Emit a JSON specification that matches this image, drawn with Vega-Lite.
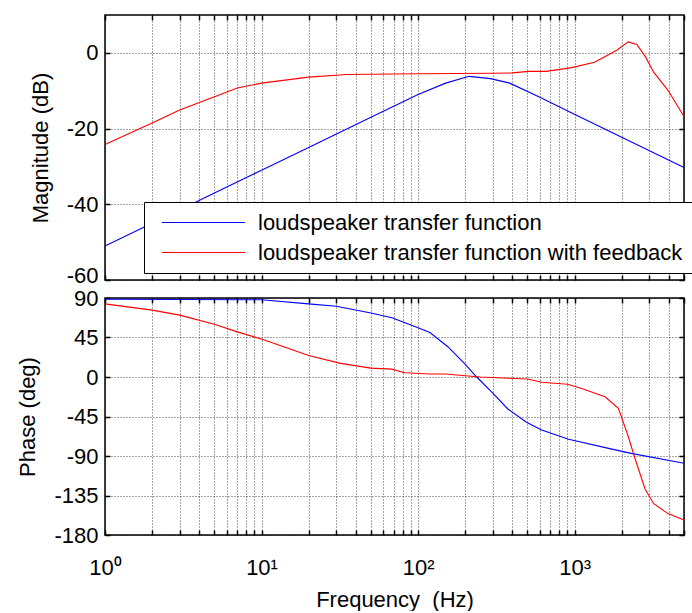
{
  "$schema": "https://vega.github.io/schema/vega-lite/v6.json",
  "padding": {"left": 16, "top": 13, "right": 0, "bottom": 0},
  "spacing": 18,
  "bounds": "flush",
  "config": {
    "font": "Liberation Sans",
    "view": {"stroke": "#000", "strokeWidth": 1.5},
    "axis": {
      "labelFont": "Liberation Sans",
      "titleFont": "Liberation Sans",
      "labelFontSize": 22,
      "titleFontSize": 22,
      "titleFontWeight": "normal",
      "labelColor": "#000",
      "titleColor": "#000",
      "domain": false,
      "tickColor": "#000",
      "tickSize": -5,
      "tickWidth": 1.5,
      "gridColor": "#000",
      "gridOpacity": 0.7,
      "gridDash": [1, 2],
      "gridWidth": 1
    }
  },
  "datasets": {
    "mag": [
      {"f": 1, "dB": -51, "series": "loudspeaker transfer function"},
      {"f": 2, "dB": -45, "series": "loudspeaker transfer function"},
      {"f": 3, "dB": -41.5, "series": "loudspeaker transfer function"},
      {"f": 5, "dB": -37, "series": "loudspeaker transfer function"},
      {"f": 10, "dB": -31, "series": "loudspeaker transfer function"},
      {"f": 20, "dB": -25, "series": "loudspeaker transfer function"},
      {"f": 50, "dB": -17, "series": "loudspeaker transfer function"},
      {"f": 100, "dB": -11, "series": "loudspeaker transfer function"},
      {"f": 150, "dB": -8, "series": "loudspeaker transfer function"},
      {"f": 212, "dB": -6.2, "series": "loudspeaker transfer function"},
      {"f": 290, "dB": -6.8, "series": "loudspeaker transfer function"},
      {"f": 385, "dB": -8, "series": "loudspeaker transfer function"},
      {"f": 600, "dB": -11.7, "series": "loudspeaker transfer function"},
      {"f": 960, "dB": -15.9, "series": "loudspeaker transfer function"},
      {"f": 2000, "dB": -22.3, "series": "loudspeaker transfer function"},
      {"f": 5000, "dB": -30.3, "series": "loudspeaker transfer function"},
      {"f": 1, "dB": -24.2, "series": "loudspeaker transfer function with feedback"},
      {"f": 2, "dB": -18.5, "series": "loudspeaker transfer function with feedback"},
      {"f": 3, "dB": -15.1, "series": "loudspeaker transfer function with feedback"},
      {"f": 5, "dB": -11.6, "series": "loudspeaker transfer function with feedback"},
      {"f": 7, "dB": -9.3, "series": "loudspeaker transfer function with feedback"},
      {"f": 10, "dB": -8, "series": "loudspeaker transfer function with feedback"},
      {"f": 20, "dB": -6.4, "series": "loudspeaker transfer function with feedback"},
      {"f": 35, "dB": -5.7, "series": "loudspeaker transfer function with feedback"},
      {"f": 100, "dB": -5.5, "series": "loudspeaker transfer function with feedback"},
      {"f": 300, "dB": -5.4, "series": "loudspeaker transfer function with feedback"},
      {"f": 400, "dB": -5.3, "series": "loudspeaker transfer function with feedback"},
      {"f": 510, "dB": -4.9, "series": "loudspeaker transfer function with feedback"},
      {"f": 660, "dB": -4.9, "series": "loudspeaker transfer function with feedback"},
      {"f": 960, "dB": -3.9, "series": "loudspeaker transfer function with feedback"},
      {"f": 1340, "dB": -2.5, "series": "loudspeaker transfer function with feedback"},
      {"f": 1860, "dB": 0.7, "series": "loudspeaker transfer function with feedback"},
      {"f": 2200, "dB": 2.9, "series": "loudspeaker transfer function with feedback"},
      {"f": 2500, "dB": 2.2, "series": "loudspeaker transfer function with feedback"},
      {"f": 2850, "dB": -1.2, "series": "loudspeaker transfer function with feedback"},
      {"f": 3200, "dB": -5.1, "series": "loudspeaker transfer function with feedback"},
      {"f": 3950, "dB": -9.9, "series": "loudspeaker transfer function with feedback"},
      {"f": 5000, "dB": -16.8, "series": "loudspeaker transfer function with feedback"}
    ],
    "phase": [
      {"f": 1, "deg": 88.5, "series": "loudspeaker transfer function"},
      {"f": 10, "deg": 88, "series": "loudspeaker transfer function"},
      {"f": 20, "deg": 83.3, "series": "loudspeaker transfer function"},
      {"f": 30, "deg": 80.6, "series": "loudspeaker transfer function"},
      {"f": 50, "deg": 73, "series": "loudspeaker transfer function"},
      {"f": 68, "deg": 67.5, "series": "loudspeaker transfer function"},
      {"f": 100, "deg": 56, "series": "loudspeaker transfer function"},
      {"f": 119, "deg": 50.6, "series": "loudspeaker transfer function"},
      {"f": 155, "deg": 34.5, "series": "loudspeaker transfer function"},
      {"f": 199, "deg": 15, "series": "loudspeaker transfer function"},
      {"f": 237, "deg": 0, "series": "loudspeaker transfer function"},
      {"f": 295, "deg": -16.9, "series": "loudspeaker transfer function"},
      {"f": 376, "deg": -36.7, "series": "loudspeaker transfer function"},
      {"f": 490, "deg": -51.3, "series": "loudspeaker transfer function"},
      {"f": 610, "deg": -60, "series": "loudspeaker transfer function"},
      {"f": 915, "deg": -71, "series": "loudspeaker transfer function"},
      {"f": 1650, "deg": -81.3, "series": "loudspeaker transfer function"},
      {"f": 2300, "deg": -87, "series": "loudspeaker transfer function"},
      {"f": 5000, "deg": -98.2, "series": "loudspeaker transfer function"},
      {"f": 1, "deg": 83.3, "series": "loudspeaker transfer function with feedback"},
      {"f": 2, "deg": 76.2, "series": "loudspeaker transfer function with feedback"},
      {"f": 3, "deg": 70.5, "series": "loudspeaker transfer function with feedback"},
      {"f": 5, "deg": 60, "series": "loudspeaker transfer function with feedback"},
      {"f": 7, "deg": 51.4, "series": "loudspeaker transfer function with feedback"},
      {"f": 10, "deg": 43.2, "series": "loudspeaker transfer function with feedback"},
      {"f": 20, "deg": 24.4, "series": "loudspeaker transfer function with feedback"},
      {"f": 32, "deg": 15.5, "series": "loudspeaker transfer function with feedback"},
      {"f": 50, "deg": 10.1, "series": "loudspeaker transfer function with feedback"},
      {"f": 68, "deg": 9, "series": "loudspeaker transfer function with feedback"},
      {"f": 82, "deg": 4.9, "series": "loudspeaker transfer function with feedback"},
      {"f": 120, "deg": 3.4, "series": "loudspeaker transfer function with feedback"},
      {"f": 150, "deg": 3.4, "series": "loudspeaker transfer function with feedback"},
      {"f": 200, "deg": 1.5, "series": "loudspeaker transfer function with feedback"},
      {"f": 250, "deg": 0, "series": "loudspeaker transfer function with feedback"},
      {"f": 380, "deg": -1.5, "series": "loudspeaker transfer function with feedback"},
      {"f": 500, "deg": -2.2, "series": "loudspeaker transfer function with feedback"},
      {"f": 617, "deg": -6, "series": "loudspeaker transfer function with feedback"},
      {"f": 900, "deg": -8.2, "series": "loudspeaker transfer function with feedback"},
      {"f": 1110, "deg": -13, "series": "loudspeaker transfer function with feedback"},
      {"f": 1565, "deg": -22.5, "series": "loudspeaker transfer function with feedback"},
      {"f": 1905, "deg": -35.6, "series": "loudspeaker transfer function with feedback"},
      {"f": 2200, "deg": -67.5, "series": "loudspeaker transfer function with feedback"},
      {"f": 2440, "deg": -93.7, "series": "loudspeaker transfer function with feedback"},
      {"f": 2820, "deg": -127.5, "series": "loudspeaker transfer function with feedback"},
      {"f": 3200, "deg": -144.3, "series": "loudspeaker transfer function with feedback"},
      {"f": 3950, "deg": -155.6, "series": "loudspeaker transfer function with feedback"},
      {"f": 5000, "deg": -163, "series": "loudspeaker transfer function with feedback"}
    ]
  },
  "resolve": {"scale": {"color": "independent"}, "legend": {"color": "independent"}},
  "vconcat": [
    {
      "width": 579,
      "height": 265,
      "data": {"name": "mag"},
      "resolve": {"axis": {"x": "independent", "y": "independent"}},
      "layer": [
        {
          "mark": {"type": "line", "strokeWidth": 1.1},
          "encoding": {
            "x": {"field": "f", "type": "quantitative", "scale": {"type": "log", "domain": [1, 5000], "nice": false},
              "axis": {"values": [1,2,3,4,5,6,7,8,9,10,20,30,40,50,60,70,80,90,100,200,300,400,500,600,700,800,900,1000,2000,3000,4000,5000], "labels": false, "title": null, "grid": true}},
            "y": {"field": "dB", "type": "quantitative", "scale": {"domain": [-60, 10], "nice": false},
              "axis": {"values": [-60, -40, -20, 0], "labelExpr": "'' + datum.value", "title": "Magnitude (dB)", "labelPadding": 12, "titlePadding": 14, "labelFlush": true, "labelFlushOffset": 7}},
            "color": {"field": "series", "type": "nominal",
              "scale": {"domain": ["loudspeaker transfer function", "loudspeaker transfer function with feedback"], "range": ["#0000ff", "#ff0000"]},
              "legend": {"orient": "none", "legendX": 39, "legendY": 187, "title": null, "fillColor": "#fff", "strokeColor": "#000", "padding": 9.5, "symbolType": "stroke", "symbolSize": 6889, "symbolStrokeWidth": 1.1, "symbolOffset": 7.5, "labelOffset": 12, "labelFontSize": 22, "labelFont": "Liberation Sans", "labelColor": "#000", "rowPadding": 8, "clipHeight": 22, "labelLimit": 0}}
          }
        },
        {
          "mark": {"type": "line", "strokeOpacity": 0},
          "encoding": {
            "x": {"field": "f", "type": "quantitative",
              "axis": {"orient": "top", "values": [1,2,3,4,5,6,7,8,9,10,20,30,40,50,60,70,80,90,100,200,300,400,500,600,700,800,900,1000,2000,3000,4000,5000], "labels": false, "title": null, "grid": false}},
            "y": {"field": "dB", "type": "quantitative",
              "axis": {"orient": "right", "values": [-60, -40, -20, 0], "labels": false, "title": null, "grid": false}},
            "detail": {"field": "series"}
          }
        }
      ]
    },
    {
      "width": 579,
      "height": 237,
      "data": {"name": "phase"},
      "resolve": {"axis": {"x": "independent", "y": "independent"}},
      "layer": [
        {
          "mark": {"type": "line", "strokeWidth": 1.1},
          "encoding": {
            "x": {"field": "f", "type": "quantitative", "scale": {"type": "log", "domain": [1, 5000], "nice": false},
              "axis": {"values": [1,2,3,4,5,6,7,8,9,10,20,30,40,50,60,70,80,90,100,200,300,400,500,600,700,800,900,1000,2000,3000,4000,5000],
                "labelExpr": "datum.value == 1 ? '10⁰' : datum.value == 10 ? '10¹' : datum.value == 100 ? '10²' : datum.value == 1000 ? '10³' : ''",
                "labelPadding": 27, "labelFlush": false, "labelOverlap": false, "title": "Frequency \u00a0(Hz)", "titlePadding": 11, "grid": true}},
            "y": {"field": "deg", "type": "quantitative", "scale": {"domain": [-180, 90], "nice": false},
              "axis": {"values": [-180, -135, -90, -45, 0, 45, 90], "labelExpr": "'' + datum.value", "title": "Phase (deg)", "labelPadding": 12, "titlePadding": 14}},
            "color": {"field": "series", "type": "nominal",
              "scale": {"domain": ["loudspeaker transfer function", "loudspeaker transfer function with feedback"], "range": ["#0000ff", "#ff0000"]},
              "legend": null}
          }
        },
        {
          "mark": {"type": "line", "strokeOpacity": 0},
          "encoding": {
            "x": {"field": "f", "type": "quantitative",
              "axis": {"orient": "top", "values": [1,2,3,4,5,6,7,8,9,10,20,30,40,50,60,70,80,90,100,200,300,400,500,600,700,800,900,1000,2000,3000,4000,5000], "labels": false, "title": null, "grid": false}},
            "y": {"field": "deg", "type": "quantitative",
              "axis": {"orient": "right", "values": [-180, -135, -90, -45, 0, 45, 90], "labels": false, "title": null, "grid": false}},
            "detail": {"field": "series"}
          }
        }
      ]
    }
  ]
}
